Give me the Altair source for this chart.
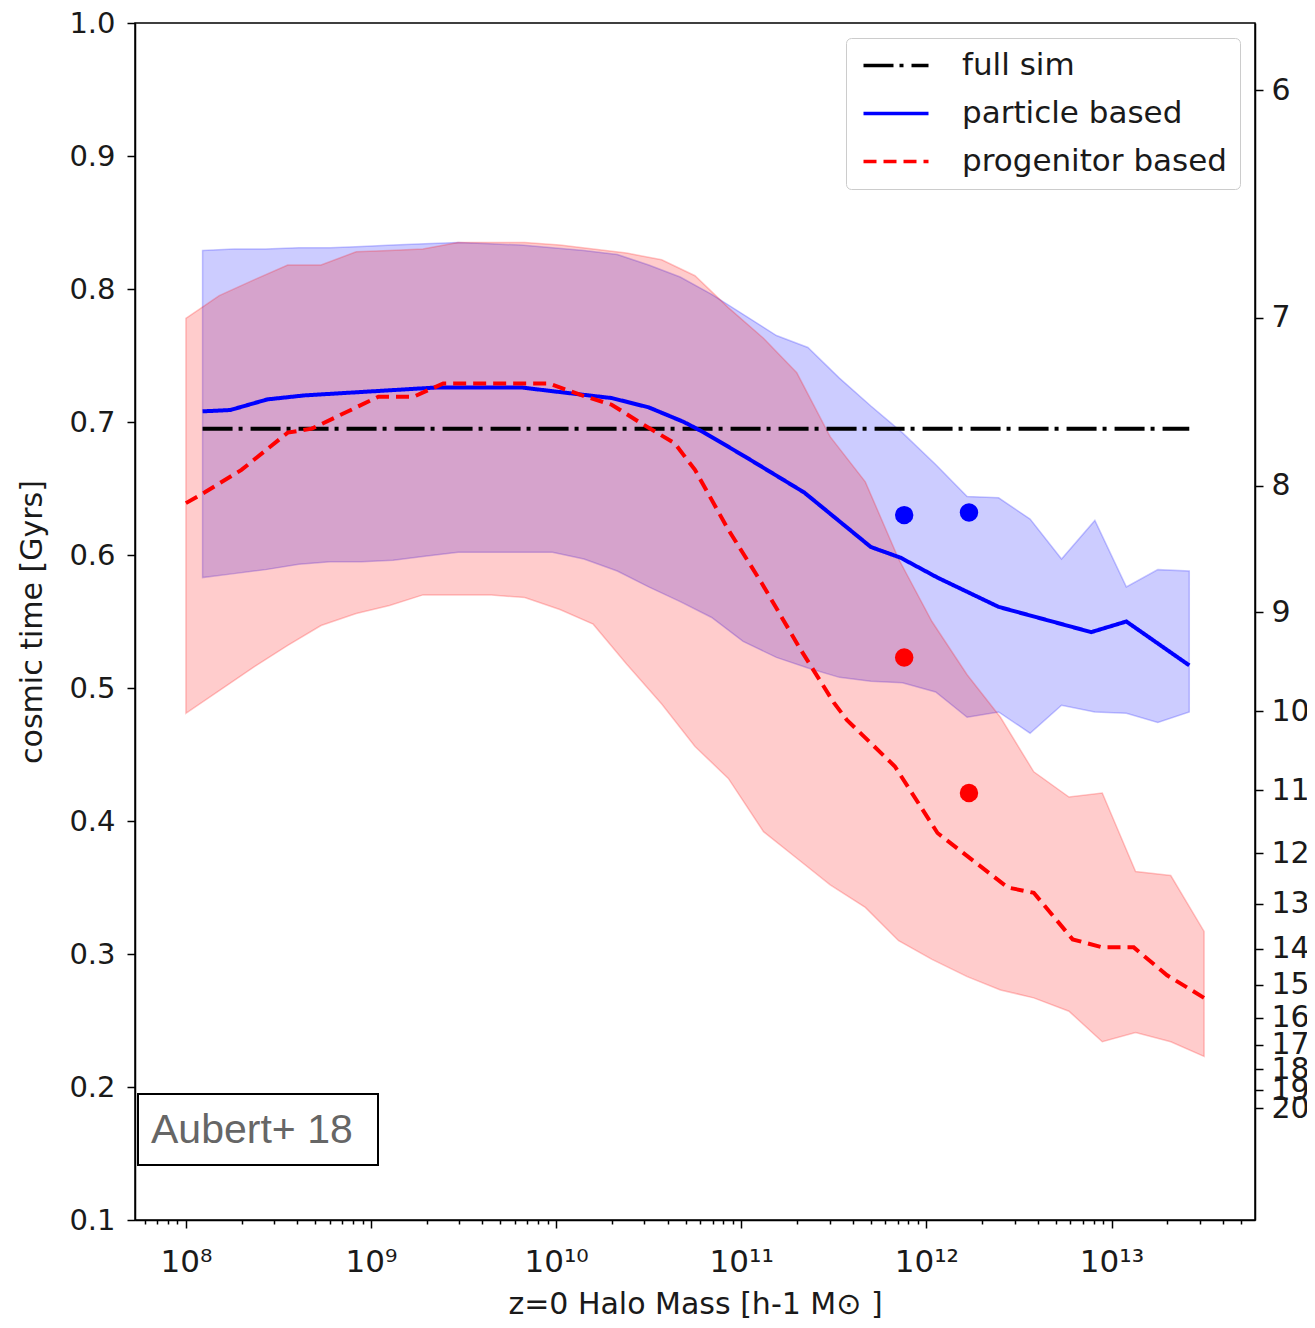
import altair as alt
import pandas as pd

# ---------------- data (log10 halo mass, cosmic time in Gyr) ----------------
red_band_logm = [8.00, 8.18, 8.37, 8.55, 8.73, 8.92, 9.10, 9.28, 9.47, 9.65, 9.83,
                 10.02, 10.20, 10.38, 10.57, 10.75, 10.93, 11.12, 11.30, 11.48, 11.67,
                 11.85, 12.03, 12.22, 12.40, 12.58, 12.77, 12.95, 13.13, 13.32, 13.50]
red_band_hi = [0.778, 0.795, 0.807, 0.818, 0.818, 0.828, 0.829, 0.830, 0.835, 0.835, 0.835,
               0.833, 0.830, 0.827, 0.822, 0.810, 0.786, 0.763, 0.737, 0.689, 0.655,
               0.597, 0.550, 0.510, 0.478, 0.437, 0.418, 0.421, 0.362, 0.359, 0.317]
red_band_lo = [0.481, 0.498, 0.516, 0.532, 0.547, 0.556, 0.562, 0.570, 0.570, 0.570, 0.568,
               0.559, 0.548, 0.518, 0.488, 0.456, 0.432, 0.392, 0.372, 0.352, 0.335,
               0.310, 0.296, 0.283, 0.273, 0.267, 0.257, 0.234, 0.241, 0.234, 0.223]

blue_band_logm = [8.09, 8.26, 8.43, 8.61, 8.78, 8.95, 9.12, 9.29, 9.47, 9.64, 9.81,
                  9.98, 10.15, 10.33, 10.50, 10.67, 10.84, 11.01, 11.19, 11.36, 11.53,
                  11.70, 11.87, 12.05, 12.22, 12.39, 12.56, 12.73, 12.91, 13.08, 13.25, 13.42]
blue_band_hi = [0.829, 0.830, 0.830, 0.831, 0.831, 0.832, 0.833, 0.834, 0.835, 0.834, 0.833,
                0.831, 0.829, 0.826, 0.818, 0.809, 0.796, 0.781, 0.765, 0.756, 0.733,
                0.712, 0.692, 0.668, 0.644, 0.643, 0.627, 0.597, 0.626, 0.576, 0.589, 0.588]
blue_band_lo = [0.583, 0.586, 0.589, 0.593, 0.595, 0.595, 0.596, 0.599, 0.602, 0.602, 0.602,
                0.602, 0.597, 0.588, 0.576, 0.565, 0.553, 0.535, 0.523, 0.515, 0.508,
                0.505, 0.504, 0.497, 0.478, 0.482, 0.466, 0.487, 0.482, 0.481, 0.474, 0.482]

particle_logm = [8.09, 8.24, 8.44, 8.64, 9.00, 9.36, 9.81, 9.99, 10.30, 10.50, 10.69,
                 10.80, 11.02, 11.34, 11.70, 11.86, 12.06, 12.39, 12.89, 13.08, 13.42]
particle_t = [0.708, 0.709, 0.717, 0.720, 0.723, 0.726, 0.726, 0.723, 0.718, 0.711, 0.700,
              0.692, 0.674, 0.647, 0.606, 0.598, 0.583, 0.561, 0.542, 0.550, 0.517]

progenitor_logm = [8.00, 8.10, 8.30, 8.55, 8.68, 9.04, 9.23, 9.39, 9.96, 10.14, 10.30,
                   10.46, 10.64, 10.75, 10.93, 11.11, 11.32, 11.50, 11.57, 11.83, 12.06,
                   12.44, 12.58, 12.79, 12.95, 13.12, 13.30, 13.50]
progenitor_t = [0.639, 0.647, 0.664, 0.692, 0.695, 0.719, 0.719, 0.729, 0.729, 0.720, 0.713,
                0.699, 0.684, 0.664, 0.619, 0.579, 0.529, 0.489, 0.476, 0.441, 0.391,
                0.350, 0.346, 0.311, 0.305, 0.305, 0.284, 0.267]

fullsim_logm = [8.09, 13.42]
fullsim_t = [0.695, 0.695]

blue_dots_logm = [11.88, 12.23]
blue_dots_t = [0.630, 0.632]
red_dots_logm = [11.88, 12.23]
red_dots_t = [0.523, 0.421]

series_names = ["full sim", "particle based", "progenitor based"]
series_colors = ["#000000", "#0000ff", "#ff0000"]
series_dashes = [[30, 6, 4, 8], [1, 0], [13, 7]]

# right axis: redshift labels placed at cosmic time
z_labels = ["6", "7", "8", "9", "10", "11", "12", "13", "14", "15", "16", "17", "18", "19", "20"]
z_time = [0.9496, 0.7782, 0.6519, 0.5571, 0.4827, 0.4233, 0.3759, 0.3376, 0.3038,
          0.2767, 0.2519, 0.2316, 0.2135, 0.1977, 0.1842]

y_ticks = [0.1, 0.2, 0.3, 0.4, 0.5, 0.6, 0.7, 0.8, 0.9, 1.0]
x_tick_labels = ["10⁸", "10⁹", "10¹⁰", "10¹¹", "10¹²", "10¹³"]
x_major_exp = [8, 9, 10, 11, 12, 13]

# ---------------- build tables ----------------
red_band = pd.DataFrame({"m": [10 ** v for v in red_band_logm], "hi": red_band_hi, "lo": red_band_lo})
blue_band = pd.DataFrame({"m": [10 ** v for v in blue_band_logm], "hi": blue_band_hi, "lo": blue_band_lo})

lines = pd.concat([
    pd.DataFrame({"m": [10 ** v for v in fullsim_logm], "t": fullsim_t, "series": series_names[0]}),
    pd.DataFrame({"m": [10 ** v for v in particle_logm], "t": particle_t, "series": series_names[1]}),
    pd.DataFrame({"m": [10 ** v for v in progenitor_logm], "t": progenitor_t, "series": series_names[2]}),
], ignore_index=True)

blue_dots = pd.DataFrame({"m": [10 ** v for v in blue_dots_logm], "t": blue_dots_t})
red_dots = pd.DataFrame({"m": [10 ** v for v in red_dots_logm], "t": red_dots_t})
zaxis = pd.DataFrame({"t": z_time})

FONT = "DejaVu Sans"
FS = 30
TXT = "#1a1a1a"

# x ticks: majors + minors
x_vals = []
for e in range(7, 14):
    for k in range(1, 10):
        v = k * 10 ** e
        if 10 ** 7.725 <= v <= 10 ** 13.775:
            x_vals.append(v)

is_major = "abs(log(datum.value)/LN10 - round(log(datum.value)/LN10)) < 0.001"
lbl_arr = "[" + ",".join("'" + s + "'" for s in x_tick_labels) + "]"
x_label_expr = f"{is_major} ? {lbl_arr}[round(log(datum.value)/LN10) - {x_major_exp[0]}] : ''"

x_scale = alt.Scale(type="log", domain=[10 ** 7.725, 10 ** 13.775], nice=False)
y_scale = alt.Scale(domain=[0.1, 1.0], nice=False, zero=False)

X = alt.X("m:Q", scale=x_scale, axis=alt.Axis(
    values=x_vals, labelExpr=x_label_expr, title="z=0 Halo Mass [h-1 M⊙ ]",
    tickSize={"condition": {"test": is_major, "value": 8}, "value": 4},
    labelFont=FONT, labelFontSize=31, titleFont=FONT, titleFontSize=FS,
    titleFontWeight="normal", labelColor=TXT, titleColor=TXT,
    domainColor="black", tickColor="black", domainWidth=1.5, tickWidth=1.5,
    grid=False, labelPadding=19, titlePadding=12, labelOverlap=False, labelFlush=False))

left_axis = alt.Axis(
    values=y_ticks, format=".1f",
    title="cosmic time [Gyrs]", labelFont=FONT, labelFontSize=29, titleFont=FONT,
    titleFontSize=FS, titleFontWeight="normal", labelColor=TXT, titleColor=TXT,
    domainColor="black", tickColor="black", domainWidth=1.5, tickWidth=1.5, tickSize=8,
    grid=False, labelPadding=12, titlePadding=21, labelFlush=False)


def ycol(field):
    return alt.Y(field, type="quantitative", scale=y_scale, axis=left_axis)


blue_area = alt.Chart(blue_band).mark_area(
    color="#0000ff", fillOpacity=0.2, stroke="#0000ff", strokeOpacity=0.22, strokeWidth=1.5
).encode(x=X, y=ycol("hi"), y2="lo:Q")

red_area = alt.Chart(red_band).mark_area(
    color="#ff0000", fillOpacity=0.2, stroke="#ff0000", strokeOpacity=0.22, strokeWidth=1.5
).encode(x=X, y=ycol("hi"), y2="lo:Q")

leg = alt.Legend(title=None, orient="top-right", offset=15, symbolType="M-1,0L5.5,0",
                 symbolSize=400, symbolStrokeWidth=3.5, labelFont=FONT, labelFontSize=31,
                 labelColor=TXT, labelOffset=73, labelLimit=500, rowPadding=16, padding=12,
                 fillColor="white", strokeColor="#cccccc", cornerRadius=5)

line_layer = alt.Chart(lines).mark_line(strokeWidth=4, strokeCap="butt").encode(
    x=X, y=ycol("t"),
    color=alt.Color("series:N", scale=alt.Scale(domain=series_names, range=series_colors), legend=leg),
    strokeDash=alt.StrokeDash("series:N", scale=alt.Scale(domain=series_names, range=series_dashes), legend=leg),
    detail="series:N",
)

bdots = alt.Chart(blue_dots).mark_circle(size=340, color="#0000ff", opacity=1).encode(x=X, y=ycol("t"))
rdots = alt.Chart(red_dots).mark_circle(size=340, color="#ff0000", opacity=1).encode(x=X, y=ycol("t"))

one = pd.DataFrame({"a": [0]})
box = alt.Chart(one).mark_rect(fill="white", stroke="black", strokeWidth=2).encode(
    x=alt.value(3), x2=alt.value(243), y=alt.value(1071), y2=alt.value(1142))
box_text = alt.Chart(one).mark_text(
    text="Aubert+ 18", font="Liberation Sans", fontSize=41, color="#666666",
    align="left", baseline="middle").encode(x=alt.value(16), y=alt.value(1108))

main = alt.layer(blue_area, red_area, line_layer, bdots, rdots, box, box_text)

z_expr = " : ".join(f"abs(datum.value - {p}) < 0.0005 ? '{l}'" for p, l in zip(z_time, z_labels)) + " : ''"
right = alt.Chart(zaxis).mark_point(opacity=0).encode(
    y=alt.Y("t:Q", scale=y_scale, axis=alt.Axis(
        orient="right", values=z_time, labelExpr=z_expr, title=None, labelFont=FONT,
        labelFontSize=FS, labelColor=TXT, domainColor="black", tickColor="black",
        domainWidth=1.5, tickWidth=1.5, tickSize=8, grid=False, labelOverlap=False,
        labelFlush=False, labelBound=False, labelPadding=8))
)

chart = alt.layer(main, right).resolve_scale(y="independent").properties(
    width=1120, height=1197,
    autosize=alt.AutoSizeParams(type="none"),
    padding={"left": 127, "top": 15, "right": 52, "bottom": 100},
).configure_view(stroke="black", strokeWidth=1.5)

chart.save("out.html", embed_options={"renderer": "svg", "actions": False})
